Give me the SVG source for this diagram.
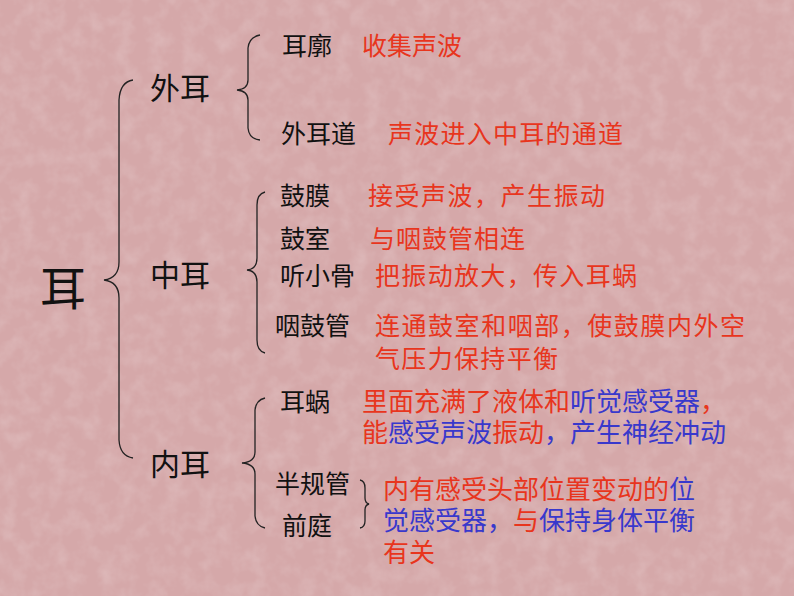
<svg xmlns="http://www.w3.org/2000/svg" width="794" height="596" viewBox="0 0 794 596">
<style>
text{font-family:"Noto Sans CJK SC","Noto Sans",sans-serif;}
.k{fill:#111;font-size:25px;}
.h{fill:#111;font-size:30px;}
.r{fill:#e8351d;font-size:25px;}
.r2{fill:#e8351d;font-size:26px;}
.b{fill:#3838cc;font-size:26px;}
.br{fill:none;stroke:#222;stroke-width:1.3;}
</style>
<defs>
<filter id="tex" x="0" y="0" width="100%" height="100%">
<feTurbulence type="fractalNoise" baseFrequency="0.06" numOctaves="3" seed="4"/>
<feColorMatrix type="matrix" values="0 0 0 0 1  0 0 0 0 1  0 0 0 0 1  0 0 0 0.9 -0.35"/>
</filter>
</defs>
<rect width="794" height="596" fill="#d5a8a9"/>
<rect width="794" height="596" filter="url(#tex)" opacity="0.35"/>
<g id="connectors">
<path class="br" d="M133,80 Q120,82 119,100 L119,262 Q119,278 104,280 Q119,282 119,298 L119,440 Q120,456 133,458"/>
<path class="br" d="M260,35 Q249,37 248,48 L248,80 Q248,89 237,90 Q248,91 248,100 L248,128 Q249,139 260,140"/>
<path class="br" d="M265,192 Q257,194 257,205 L257,258 Q257,269 247,270 Q257,271 257,282 L257,340 Q257,351 265,353"/>
<path class="br" d="M265,398 Q256,400 255,410 L255,452 Q255,462 242,463 Q255,464 255,474 L255,516 Q256,526 265,528"/>
<path class="br" d="M360,480 Q365,481 365,488 L365,498 Q365,503 369,504 Q365,505 365,510 L365,521 Q365,527 360,528"/>
</g>
<g id="ear"><text x="40" y="305" style="font-size:46px;fill:#111">耳</text></g>
<g id="outer"><text class="h" x="150" y="99">外耳</text></g>
<g id="middle"><text class="h" x="150" y="286">中耳</text></g>
<g id="inner"><text class="h" x="150" y="475">内耳</text></g>
<g id="erkuo"><text class="k" x="282" y="55">耳廓</text><text class="r" x="362" y="55">收集声波</text></g>
<g id="waierdao"><text class="k" x="281" y="143">外耳道</text><text class="r" x="388" y="143" textLength="235">声波进入中耳的通道</text></g>
<g id="gumo"><text class="k" x="280" y="205">鼓膜</text><text class="r" x="368" y="205" textLength="237">接受声波，产生振动</text></g>
<g id="gushi"><text class="k" x="280" y="248">鼓室</text><text class="r" x="370" y="248" textLength="155">与咽鼓管相连</text></g>
<g id="tingxiaogu"><text class="k" x="280" y="285">听小骨</text><text class="r" x="375" y="285" textLength="262">把振动放大，传入耳蜗</text></g>
<g id="yangu"><text class="k" x="275" y="335">咽鼓管</text><text class="r" x="375" y="335" textLength="370">连通鼓室和咽部，使鼓膜内外空</text><text class="r" x="375" y="368" textLength="183">气压力保持平衡</text></g>
<g id="erwo"><text class="k" x="280" y="411">耳蜗</text>
<text class="r2" x="362" y="411">里面充满了液体和</text><text class="b" x="570" y="411">听觉感受器</text><text class="r2" x="700" y="411">，</text>
<text class="r2" x="362" y="442">能</text><text class="b" x="388" y="442">感受声波</text><text class="r2" x="492" y="442">振动</text><text class="b" x="544" y="442">，产生神经冲动</text></g>
<g id="banguiguan"><text class="k" x="275" y="493">半规管</text></g>
<g id="qianting"><text class="k" x="282" y="535">前庭</text>
<text class="r2" x="383" y="499">内有感受头部位置变动的</text><text class="b" x="669" y="499">位</text>
<text class="b" x="383" y="530">觉感受器，</text><text class="r2" x="513" y="530">与</text><text class="b" x="539" y="530">保持身体平衡</text>
<text class="r2" x="383" y="562">有关</text></g>
</svg>
